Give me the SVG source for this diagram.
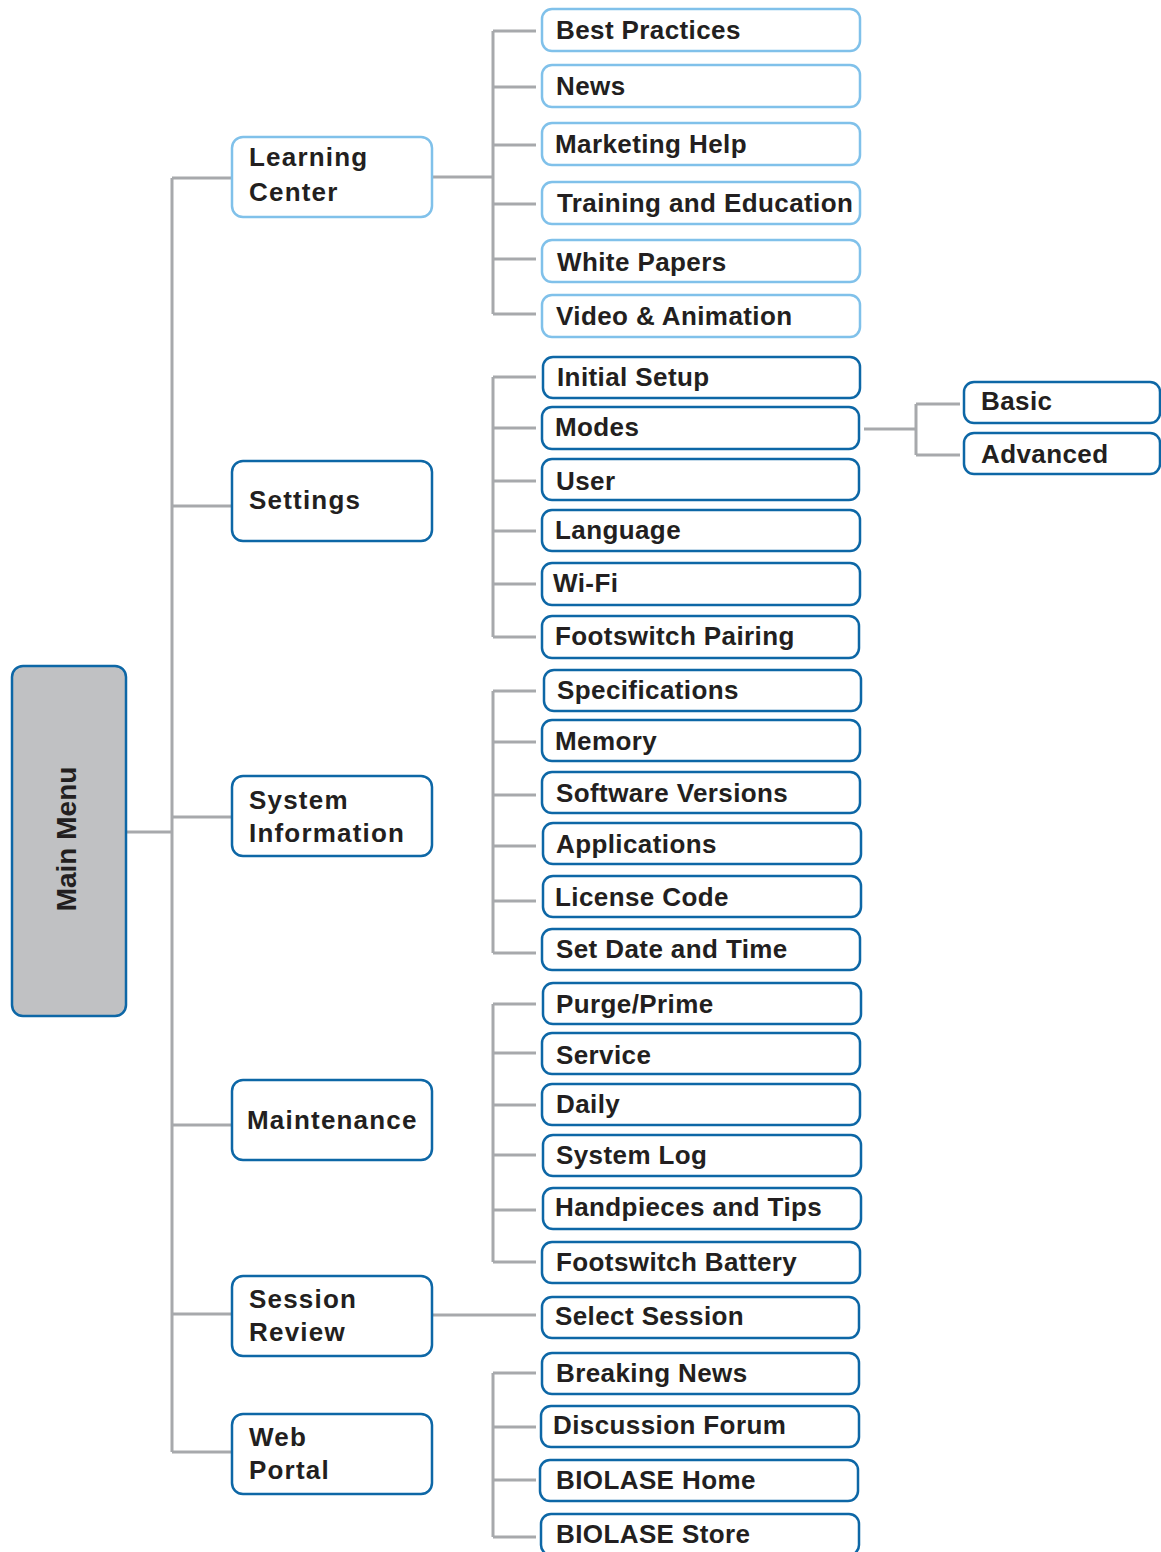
<svg xmlns="http://www.w3.org/2000/svg" width="1161" height="1552" viewBox="0 0 1161 1552">
<style>
.c{fill:none;stroke:#a7a9ac;stroke-width:3}
.lb{fill:#fff;stroke:#80c1ea;stroke-width:2.5}
.db{fill:#fff;stroke:#0d67a6;stroke-width:2.5}
.t{font-family:"Liberation Sans",Arial,sans-serif;font-weight:bold;font-size:26px;fill:#231f20;letter-spacing:0.4px}
.t1{font-family:"Liberation Sans",Arial,sans-serif;font-weight:bold;font-size:26px;fill:#231f20;letter-spacing:1.2px}
</style>
<rect width="1161" height="1552" fill="#fff"/>
<g id="connectors">
<path class="c" d="M126 832H172M172 178V1452M172 178H232M172 506H232M172 817H232M172 1125H232M172 1314H232M172 1452H232"/>
<path class="c" d="M432 177H493M493 31V314M493 31H536M493 87H536M493 145H536M493 204H536M493 259H536M493 314H536"/>
<path class="c" d="M493 377V637M493 377H536M493 428H536M493 481H536M493 531H536M493 584H536M493 637H536"/>
<path class="c" d="M864 429H916M916 404V455M916 404H960M916 455H960"/>
<path class="c" d="M493 691V953M493 691H536M493 742H536M493 795H536M493 846H536M493 901H536M493 953H536"/>
<path class="c" d="M493 1004V1262M493 1004H536M493 1053H536M493 1105H536M493 1155H536M493 1210H536M493 1262H536"/>
<path class="c" d="M432 1315H536"/>
<path class="c" d="M493 1373V1537M493 1373H536M493 1427H536M493 1480H536M493 1537H536"/>
</g>
<g id="main-menu"><rect x="12" y="666" width="114" height="350" rx="11" fill="#c0c1c3" stroke="#0d67a6" stroke-width="2.5"/><text class="t" style="font-size:28px;letter-spacing:0" text-anchor="middle" transform="translate(76,839) rotate(-90)">Main Menu</text></g>
<g id="learning-center"><rect class="lb" x="232" y="137" width="200" height="80" rx="11"/><text class="t1" x="249" y="166">Learning</text><text class="t1" x="249" y="201">Center</text></g>
<g id="settings"><rect class="db" x="232" y="461" width="200" height="80" rx="11"/><text class="t1" x="249" y="509">Settings</text></g>
<g id="system-information"><rect class="db" x="232" y="776" width="200" height="80" rx="11"/><text class="t1" x="249" y="809">System</text><text class="t1" x="249" y="842">Information</text></g>
<g id="maintenance"><rect class="db" x="232" y="1080" width="200" height="80" rx="11"/><text class="t1" x="247" y="1129">Maintenance</text></g>
<g id="session-review"><rect class="db" x="232" y="1276" width="200" height="80" rx="11"/><text class="t1" x="249" y="1308">Session</text><text class="t1" x="249" y="1341">Review</text></g>
<g id="web-portal"><rect class="db" x="232" y="1414" width="200" height="80" rx="11"/><text class="t1" x="249" y="1446">Web</text><text class="t1" x="249" y="1479">Portal</text></g>

<g id="best-practices"><rect class="lb" x="542" y="9" width="318" height="42" rx="10"/><text class="t" x="556" y="39">Best Practices</text></g>
<g id="news"><rect class="lb" x="542" y="65" width="318" height="42" rx="10"/><text class="t" x="556" y="95">News</text></g>
<g id="marketing-help"><rect class="lb" x="542" y="123" width="318" height="42" rx="10"/><text class="t" x="555" y="153">Marketing Help</text></g>
<g id="training-and-education"><rect class="lb" x="542" y="182" width="318" height="42" rx="10"/><text class="t" x="557" y="212">Training and Education</text></g>
<g id="white-papers"><rect class="lb" x="542" y="240" width="318" height="42" rx="10"/><text class="t" x="557" y="271">White Papers</text></g>
<g id="video-animation"><rect class="lb" x="542" y="295" width="318" height="42" rx="10"/><text class="t" x="556" y="325">Video &amp; Animation</text></g>

<g id="initial-setup"><rect class="db" x="543" y="357" width="317" height="41" rx="10"/><text class="t" x="557" y="386">Initial Setup</text></g>
<g id="modes"><rect class="db" x="542" y="407" width="317" height="42" rx="10"/><text class="t" x="555" y="436">Modes</text></g>
<g id="user"><rect class="db" x="542" y="459" width="317" height="41" rx="10"/><text class="t" x="556" y="490">User</text></g>
<g id="language"><rect class="db" x="542" y="510" width="318" height="41" rx="10"/><text class="t" x="555" y="539">Language</text></g>
<g id="wi-fi"><rect class="db" x="542" y="563" width="318" height="42" rx="10"/><text class="t" x="553" y="592">Wi-Fi</text></g>
<g id="footswitch-pairing"><rect class="db" x="542" y="616" width="317" height="42" rx="10"/><text class="t" x="555" y="645">Footswitch Pairing</text></g>

<g id="basic"><rect class="db" x="964" y="382" width="196" height="41" rx="10"/><text class="t" x="981" y="410">Basic</text></g>
<g id="advanced"><rect class="db" x="964" y="433" width="196" height="41" rx="10"/><text class="t" x="981" y="463">Advanced</text></g>

<g id="specifications"><rect class="db" x="544" y="670" width="317" height="41" rx="10"/><text class="t" x="557" y="699">Specifications</text></g>
<g id="memory"><rect class="db" x="542" y="720" width="318" height="41" rx="10"/><text class="t" x="555" y="750">Memory</text></g>
<g id="software-versions"><rect class="db" x="542" y="772" width="318" height="41" rx="10"/><text class="t" x="556" y="802">Software Versions</text></g>
<g id="applications"><rect class="db" x="543" y="823" width="318" height="41" rx="10"/><text class="t" x="556" y="853">Applications</text></g>
<g id="license-code"><rect class="db" x="543" y="876" width="318" height="41" rx="10"/><text class="t" x="555" y="906">License Code</text></g>
<g id="set-date-and-time"><rect class="db" x="542" y="929" width="318" height="41" rx="10"/><text class="t" x="556" y="958">Set Date and Time</text></g>

<g id="purge-prime"><rect class="db" x="543" y="983" width="318" height="41" rx="10"/><text class="t" x="556" y="1013">Purge/Prime</text></g>
<g id="service"><rect class="db" x="542" y="1033" width="318" height="41" rx="10"/><text class="t" x="556" y="1064">Service</text></g>
<g id="daily"><rect class="db" x="542" y="1084" width="318" height="41" rx="10"/><text class="t" x="556" y="1113">Daily</text></g>
<g id="system-log"><rect class="db" x="543" y="1135" width="318" height="41" rx="10"/><text class="t" x="556" y="1164">System Log</text></g>
<g id="handpieces-and-tips"><rect class="db" x="543" y="1188" width="318" height="41" rx="10"/><text class="t" x="555" y="1216">Handpieces and Tips</text></g>
<g id="footswitch-battery"><rect class="db" x="542" y="1242" width="318" height="41" rx="10"/><text class="t" x="556" y="1271">Footswitch Battery</text></g>

<g id="select-session"><rect class="db" x="542" y="1297" width="317" height="41" rx="10"/><text class="t" x="555" y="1325">Select Session</text></g>

<g id="breaking-news"><rect class="db" x="542" y="1353" width="317" height="41" rx="10"/><text class="t" x="556" y="1382">Breaking News</text></g>
<g id="discussion-forum"><rect class="db" x="541" y="1406" width="318" height="41" rx="10"/><text class="t" x="553" y="1434">Discussion Forum</text></g>
<g id="biolase-home"><rect class="db" x="540" y="1460" width="318" height="41" rx="10"/><text class="t" x="556" y="1489">BIOLASE Home</text></g>
<g id="biolase-store"><rect class="db" x="541" y="1514" width="318" height="41" rx="10"/><text class="t" x="556" y="1543">BIOLASE Store</text></g>
</svg>
